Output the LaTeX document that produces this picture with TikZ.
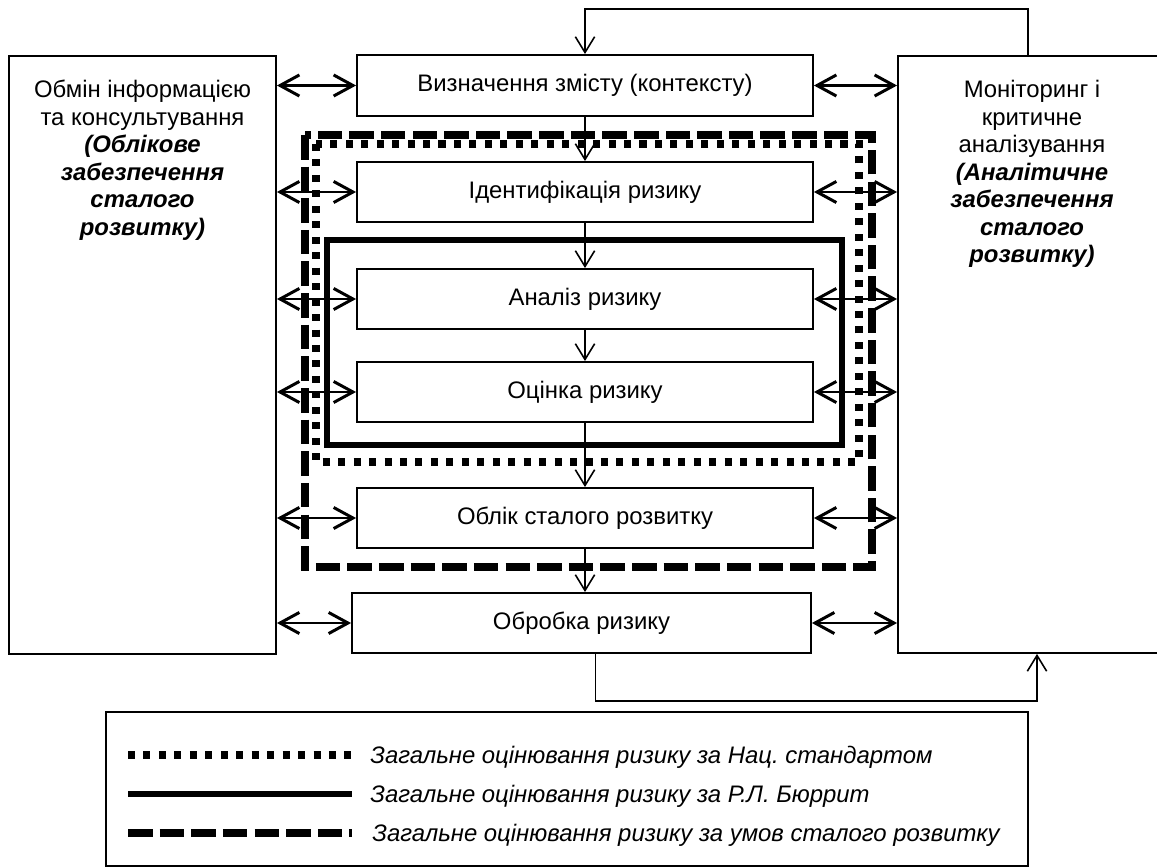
\documentclass[tikz,border=0pt]{standalone}
\usepackage{fontspec}
\setmainfont{Liberation Sans}
\usetikzlibrary{arrows.meta,positioning,calc}
\frenchspacing

\newcommand\mainfs{\fontsize{13.6}{15.65}\selectfont}

\tikzset{
  stage/.style={draw, line width=1.1pt, minimum width=9.12cm, minimum height=1.2cm, inner sep=0pt, font=\mainfs},
  side/.style={draw, line width=1.1pt, inner sep=0pt},
  sidetext/.style={anchor=north, align=center, inner sep=0pt, font=\mainfs},
  legtext/.style={anchor=west, inner sep=0pt, font=\mainfs\itshape},
  flow/.style={line width=0.9pt, -{Straight Barb[length=9pt,width=11pt]}},
  link/.style={line width=1.7pt, {Straight Barb[length=11pt,width=12pt]}-{Straight Barb[length=11pt,width=12pt]}},
  natstd/.style={line width=4pt, dash pattern=on 4pt off 4.8pt},
  burrit/.style={line width=3.4pt},
  sustain/.style={line width=4pt, dash pattern=on 14pt off 4pt},
}

\begin{document}
\begin{tikzpicture}[x=0.02cm, y=-0.02cm]
  \useasboundingbox (0,0) rectangle (1157,868);

  % frames of the three approaches
  \draw[sustain] (305,135) rectangle (872,567);
  \draw[natstd] (316,144) rectangle (859,462);
  \draw[burrit] (327,240) rectangle (842,445);

  % side blocks
  \node[side, minimum width=5.34cm, minimum height=11.96cm] (obmin) at (142.5,355) {};
  \node[sidetext] (obmintxt) at (142.5,80)
    {Обмін інформацією\\та консультування\\\textbf{\textit{(Облікове}}\\\textbf{\textit{забезпечення}}\\\textbf{\textit{сталого}}\\\textbf{\textit{розвитку)}}};
  \node[side, minimum width=5.28cm, minimum height=11.94cm] (monitor) at (1030,354.5) {};
  \node[sidetext] (monitortxt) at (1032,80)
    {Моніторинг і\\критичне\\аналізування\\\textbf{\textit{(Аналітичне}}\\\textbf{\textit{забезпечення}}\\\textbf{\textit{сталого}}\\\textbf{\textit{розвитку)}}};

  % process stages
  \node[stage, minimum height=1.22cm] (viznach) at (585,85.5) {Визначення змісту (контексту)};
  \node[stage] (ident) at (585,192) {Ідентифікація ризику};
  \node[stage] (analiz) at (585,299) {Аналіз ризику};
  \node[stage] (ocinka) at (585,392) {Оцінка ризику};
  \node[stage] (oblik) at (585,518) {Облік сталого розвитку};
  \node[stage, minimum width=9.18cm] (obrobka) at (581.5,623) {Обробка ризику};

  \draw[flow] (viznach) -- (ident);
  \draw[flow] (ident) -- (analiz);
  \draw[flow] (analiz) -- (ocinka);
  \draw[flow] (ocinka) -- (oblik);
  \draw[flow] (oblik.south) -- (oblik.south |- obrobka.north);

  \foreach \n in {viznach,ident,analiz,ocinka,oblik,obrobka} {
    \draw[link] (obmin.east |- \n) -- (\n.west);
    \draw[link] (\n.east) -- (monitor.west |- \n);
  }

  % feedback loops
  \coordinate (fbtop) at (0,9);
  \coordinate (fbbot) at (0,701);
  \draw[flow] ([xshift=-0.04cm]monitor.north) -- ([xshift=-0.04cm]monitor.north |- fbtop) -| (viznach.north);
  \draw[flow] ([xshift=0.28cm]obrobka.south) -- ([xshift=0.28cm]obrobka.south |- fbbot) -| ([xshift=0.14cm]monitor.south);

  % legend
  \draw[line width=1.1pt] (106,712) rectangle (1028,866);
  \draw[natstd] (128,755) -- (352,755);
  \node[legtext] (legnat) at (370,757) {Загальне оцінювання ризику за Нац. стандартом};
  \draw[burrit] (128,794) -- (352,794);
  \node[legtext] (legburrit) at (370,796) {Загальне оцінювання ризику за Р.Л. Бюррит};
  \draw[sustain] (128,833) -- (352,833);
  \node[legtext] (legsust) at (372,835) {Загальне оцінювання ризику за умов сталого розвитку};
\end{tikzpicture}
\end{document}
